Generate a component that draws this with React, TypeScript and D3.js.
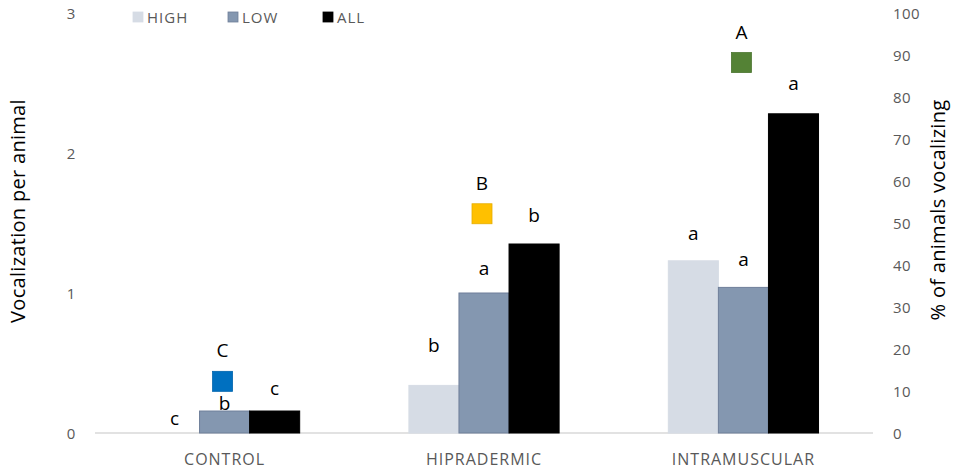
import React, { useEffect } from "react";
import * as d3 from "d3";

const categories = ["CONTROL", "HIPRADERMIC", "INTRAMUSCULAR"];
const seriesNames = ["HIGH", "LOW", "ALL"];
const highValues = [0, 0.34, 1.23];
const lowValues = [0.157, 1.0, 1.04];
const allValues = [0.157, 1.35, 2.28];
const percentVocalizing = [12.3, 52.2, 88.2];
const highLetters = ["c", "b", "a"];
const lowLetters = ["b", "a", "a"];
const allLetters = ["c", "b", "a"];
const groupLetters = ["C", "B", "A"];
const leftTicks = [0, 1, 2, 3];
const rightTicks = [0, 10, 20, 30, 40, 50, 60, 70, 80, 90, 100];

// layout / style
const W = 957;
const H = 471;
const seriesColors = ["#d6dce5", "#8497b0", "#000000"];
const seriesStroke = ["#d6dce5", "#6f7f99", "#000000"];
const markerColors = ["#0070c0", "#ffc000", "#548235"];
const labelOffsets = [
  [15, 40, 28],
  [8, 25, 28],
  [23, 29, 31],
];
const FONT = "'Open Sans', sans-serif";

export default function App() {
  useEffect(() => {
    document.body.style.margin = "0";
  }, []);

  const x0 = d3
    .scaleBand<string>()
    .domain(categories)
    .range([95, 873])
    .paddingInner(0.421)
    .paddingOuter(0.21);
  const x1 = d3
    .scaleBand<string>()
    .domain(seriesNames)
    .range([0, x0.bandwidth()]);
  const yL = d3.scaleLinear().domain([0, 3]).range([433, 13]);
  const yR = d3.scaleLinear().domain([0, 100]).range([433, 13]);

  const seriesValues = [highValues, lowValues, allValues];
  const seriesLetters = [highLetters, lowLetters, allLetters];

  const legendX = [133, 228, 323];

  return (
    <svg width={W} height={H} style={{ display: "block", background: "#fff" }} fontFamily={FONT}>
      {/* axis baseline */}
      <line x1={95} x2={873} y1={yL(0)} y2={yL(0)} stroke="#d9d9d9" strokeWidth={1.3} />

      {/* left ticks */}
      {leftTicks.map((t) => (
        <text key={"l" + t} x={71} y={yL(t)} textAnchor="middle" dominantBaseline="central" fontSize={15} fill="#595959">
          {t}
        </text>
      ))}
      {/* right ticks */}
      {rightTicks.map((t) => (
        <text key={"r" + t} x={893} y={yR(t)} textAnchor="start" dominantBaseline="central" fontSize={15} fill="#595959" letterSpacing={0.4}>
          {t}
        </text>
      ))}

      {/* axis titles */}
      <text transform={`translate(17,211) rotate(-90)`} textAnchor="middle" dominantBaseline="central" fontSize={20} fill="#000" letterSpacing={0.3}>
        Vocalization per animal
      </text>
      <text transform={`translate(937,210) rotate(-90)`} textAnchor="middle" dominantBaseline="central" fontSize={20} fill="#000" letterSpacing={0.3}>
        % of animals vocalizing
      </text>

      {/* category labels */}
      {categories.map((c) => (
        <text key={c} x={x0(c)! + x0.bandwidth() / 2} y={459} textAnchor="middle" dominantBaseline="central" fontSize={16} fill="#595959" letterSpacing={1}>
          {c}
        </text>
      ))}

      {/* bars */}
      {seriesNames.map((s, si) =>
        categories.map((c, ci) => {
          const v = seriesValues[si][ci];
          const x = x0(c)! + x1(s)!;
          const y = yL(v);
          return (
            <rect
              key={s + c}
              x={x}
              y={y}
              width={x1.bandwidth()}
              height={yL(0) - y}
              fill={seriesColors[si]}
              stroke={v > 0 ? seriesStroke[si] : "none"}
              strokeWidth={1}
            />
          );
        })
      )}

      {/* bar letters */}
      {seriesNames.map((s, si) =>
        categories.map((c, ci) => (
          <text
            key={"t" + s + c}
            x={x0(c)! + x1(s)! + x1.bandwidth() / 2}
            y={yL(seriesValues[si][ci]) - labelOffsets[si][ci]}
            textAnchor="middle"
            dominantBaseline="central"
            fontSize={19}
            fill="#000"
          >
            {seriesLetters[si][ci]}
          </text>
        ))
      )}

      {/* percent markers */}
      {categories.map((c, ci) => {
        const cx = x0(c)! + x0.bandwidth() / 2 - 2;
        const cy = yR(percentVocalizing[ci]);
        return (
          <g key={"m" + c}>
            <rect x={cx - 10} y={cy - 10} width={20} height={20} fill={markerColors[ci]} stroke={d3.color(markerColors[ci])!.darker(0.3).toString()} strokeWidth={0.8} />
            <text x={cx} y={cy - 31} textAnchor="middle" dominantBaseline="central" fontSize={19} fill="#000">
              {groupLetters[ci]}
            </text>
          </g>
        );
      })}

      {/* legend */}
      {seriesNames.map((s, si) => (
        <g key={"lg" + s}>
          <rect x={legendX[si]} y={12} width={10} height={10} fill={seriesColors[si]} stroke={seriesStroke[si]} strokeWidth={0.8} />
          <text x={legendX[si] + 14} y={17} dominantBaseline="central" fontSize={15} fill="#595959" letterSpacing={1}>
            {s}
          </text>
        </g>
      ))}
    </svg>
  );
}
